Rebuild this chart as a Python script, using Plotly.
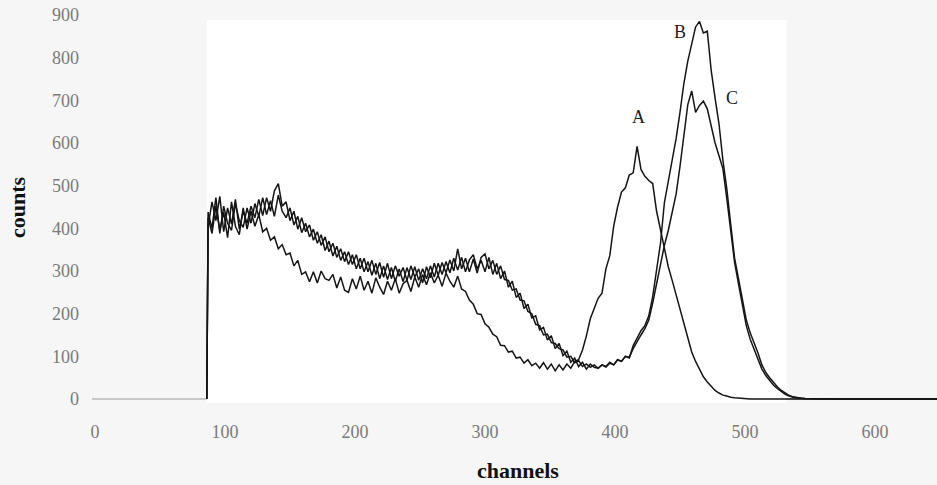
import plotly.graph_objects as go

# channel grid (x values)
channels = [86] + list(range(87, 547, 3)) + [560, 580, 600, 620, 650]

counts_A = [0,
    425, 388, 452, 395, 438, 378, 462, 405, 385, 448,
    398, 440, 405, 432, 392, 400, 372, 380, 352, 362,
    338, 342, 312, 325, 292, 298, 275, 298, 272, 300,
    282, 278, 292, 260, 286, 255, 250, 282, 258, 288,
    255, 276, 248, 284, 262, 245, 276, 255, 282, 248,
    270, 278, 252, 286, 262, 292, 268, 296, 272, 290,
    264, 295, 276, 262, 288, 258, 252, 232, 222, 200,
    198, 176, 168, 152, 146, 126, 125, 110, 112, 96,
    98, 84, 92, 78, 84, 72, 85, 70, 82, 66,
    80, 68, 82, 72, 88, 92, 115, 148, 188, 212,
    236, 248, 305, 336, 405, 450, 485, 495, 525, 530,
    592, 538, 522, 512, 505, 440, 395, 350, 310, 278,
    245, 210, 175, 140, 110, 88, 70, 52, 40, 30,
    20, 14, 9, 7, 4, 3, 2, 1, 1, 0,
    0, 0, 1, 0, 0, 0, 0, 0, 0, 0,
    0, 0, 0, 0,
    0, 0, 0, 0, 0]

counts_B = [0,
    405, 462, 418, 475, 392, 448, 410, 468, 398, 440,
    412, 452, 425, 468, 430, 472, 440, 488, 505, 452,
    462, 418, 440, 398, 425, 392, 408, 372, 392, 360,
    380, 345, 365, 332, 352, 322, 345, 315, 338, 305,
    330, 298, 325, 292, 320, 285, 318, 282, 312, 288,
    308, 278, 312, 286, 305, 272, 310, 284, 318, 290,
    320, 296, 326, 300, 352, 305, 330, 298, 328, 295,
    332, 340, 305, 325, 292, 312, 280, 278, 255, 258,
    232, 230, 205, 200, 175, 172, 150, 152, 132, 130,
    118, 115, 98, 100, 85, 90, 76, 82, 74, 80,
    72, 80, 76, 86, 80, 92, 88, 100, 96, 125,
    142, 160, 172, 195, 240, 300, 365, 460, 510, 564,
    610, 672, 740, 792, 835, 872, 885, 858, 862, 770,
    705, 645, 560, 493, 410, 330, 282, 230, 185, 155,
    132, 108, 80, 62, 50, 38, 28, 20, 13, 8,
    5, 3, 2, 1,
    0, 0, 0, 0, 0]

counts_C = [0,
    438, 400, 472, 388, 452, 412, 395, 458, 418, 402,
    448, 412, 458, 428, 472, 432, 465, 428, 478, 440,
    425, 448, 408, 428, 390, 412, 380, 398, 365, 385,
    348, 370, 335, 358, 325, 345, 315, 338, 305, 330,
    298, 322, 290, 318, 282, 312, 280, 308, 276, 305,
    275, 308, 280, 310, 278, 305, 282, 312, 286, 318,
    292, 322, 296, 330, 302, 332, 298, 326, 338, 305,
    325, 298, 332, 292, 318, 282, 300, 262, 276, 238,
    248, 212, 222, 190, 195, 162, 168, 138, 148, 118,
    130, 102, 112, 86, 96, 76, 86, 70, 82, 74,
    72, 80, 75, 84, 80, 92, 88, 100, 98, 118,
    135, 150, 165, 185, 225, 270, 318, 360, 395, 440,
    480, 545, 612, 690, 722, 672, 688, 698, 680, 640,
    600, 570, 540, 470, 400, 320, 270, 218, 172, 140,
    115, 92, 70, 55, 42, 32, 24, 17, 11, 7,
    4, 3, 2, 1,
    0, 0, 0, 0, 0]

x_ticks = [0, 100, 200, 300, 400, 500, 600]
y_ticks = [0, 100, 200, 300, 400, 500, 600, 700, 800, 900]

peak_labels = ["A", "B", "C"]
peak_label_x = [418, 450, 490]
peak_label_y = [661, 860, 705]

FONT = "Liberation Serif"
fig = go.Figure()

for name, ys in [("A", counts_A), ("B", counts_B), ("C", counts_C)]:
    fig.add_trace(go.Scatter(x=channels, y=ys, mode="lines", name=name,
                             line=dict(color="#151515", width=1.5),
                             showlegend=False))

for t, xx, yy in zip(peak_labels, peak_label_x, peak_label_y):
    fig.add_annotation(x=xx, y=yy, text=t, showarrow=False,
                       font=dict(family=FONT, size=18, color="#1e1e1e"))

fig.add_annotation(xref="paper", yref="paper", x=0.504, y=-0.170,
                   xanchor="center", yanchor="middle",
                   text="<b>channels</b>", showarrow=False,
                   font=dict(family=FONT, size=22, color="#111"))
fig.add_annotation(xref="paper", yref="paper", x=-0.0888, y=0.496,
                   xanchor="center", yanchor="middle",
                   text="<b>counts</b>", textangle=-90, showarrow=False,
                   font=dict(family=FONT, size=22, color="#111"))

# white inner area (the rest of the scanned page is slightly grey)
fig.add_shape(type="rect", xref="x", yref="y", x0=86, x1=532, y0=-9.4, y1=888,
              fillcolor="white", line=dict(width=0), layer="below")
# faint baseline
fig.add_shape(type="line", xref="paper", yref="y", x0=0, x1=1, y0=0, y1=0,
              line=dict(color="#c8c8c8", width=2), layer="below")

fig.update_layout(
    width=937, height=485,
    margin=dict(l=92, r=0, t=8, b=82),
    paper_bgcolor="#f6f6f6", plot_bgcolor="rgba(0,0,0,0)",
    font=dict(family=FONT),
)
fig.update_xaxes(range=[-2.31, 647.7], tickvals=x_ticks, showgrid=False,
                 zeroline=False, showline=False, ticks="",
                 ticklabelstandoff=16,
                 tickfont=dict(family=FONT, size=18, color="#7a7a7a"))
fig.update_yaxes(range=[-9.4, 916.4], tickvals=y_ticks, showgrid=False,
                 zeroline=False, showline=False, ticks="",
                 ticklabelstandoff=12,
                 tickfont=dict(family=FONT, size=18, color="#7a7a7a"))

fig.write_html("out.html")
